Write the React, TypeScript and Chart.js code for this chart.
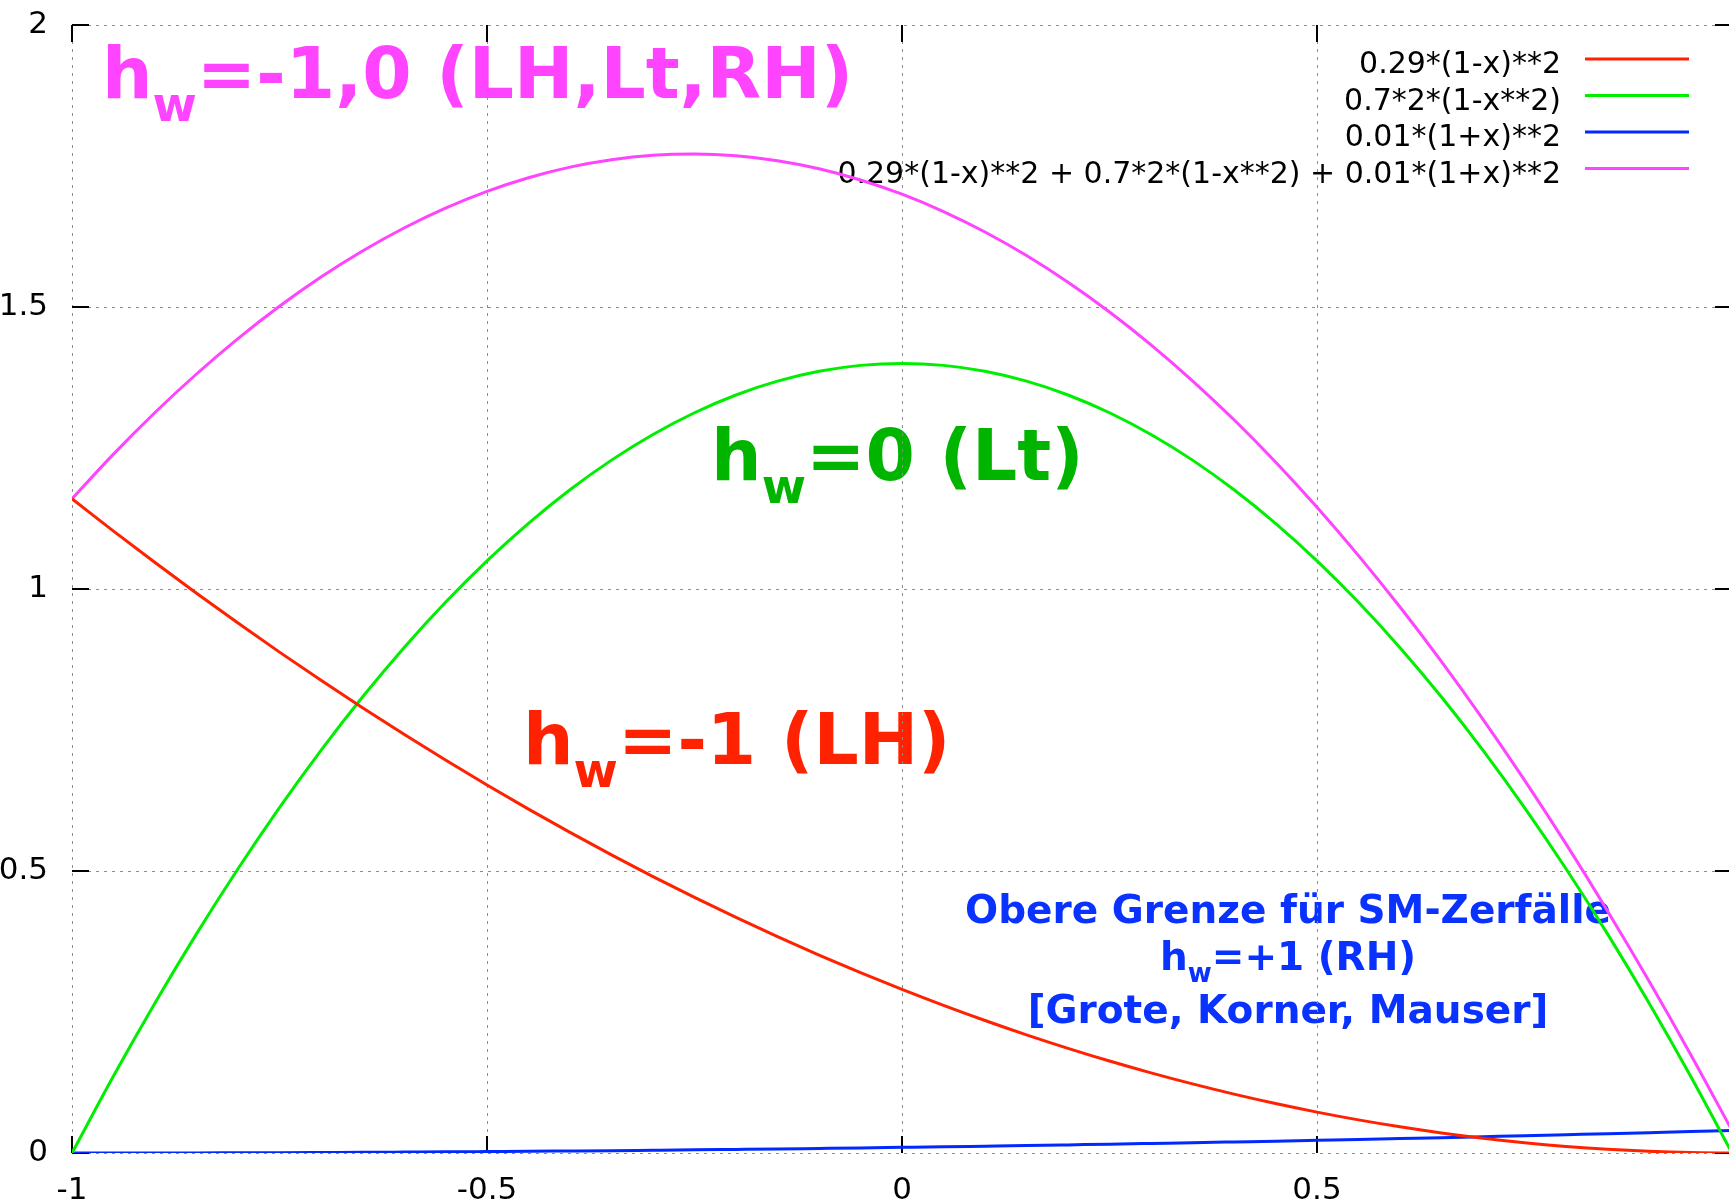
import React, { useEffect, useRef } from 'react';
import { Chart, registerables } from 'chart.js';

Chart.register(...registerables);

// ---- data ----
const xValues = [
  -1, -0.95, -0.9, -0.85, -0.8, -0.75, -0.7, -0.65, -0.6, -0.55, -0.5, -0.45, -0.4, -0.35, -0.3, -0.25, -0.2, -0.15, -0.1, -0.05,
  0, 0.05, 0.1, 0.15, 0.2, 0.25, 0.3, 0.35, 0.4, 0.45, 0.5, 0.55, 0.6, 0.65, 0.7, 0.75, 0.8, 0.85, 0.9, 0.95, 1,
];
const redValues = [
  1.16, 1.1027, 1.0469, 0.9925, 0.9396, 0.8881, 0.8381, 0.7895, 0.7424, 0.6967, 0.6525, 0.6097, 0.5684, 0.5285, 0.4901, 0.4531, 0.4176, 0.3835, 0.3509, 0.3197,
  0.29, 0.2617, 0.2349, 0.2095, 0.1856, 0.1631, 0.1421, 0.1225, 0.1044, 0.0877, 0.0725, 0.0587, 0.0464, 0.0355, 0.0261, 0.0181, 0.0116, 0.0065, 0.0029, 0.0007, 0,
];
const greenValues = [
  0, 0.1365, 0.266, 0.3885, 0.504, 0.6125, 0.714, 0.8085, 0.896, 0.9765, 1.05, 1.1165, 1.176, 1.2285, 1.274, 1.3125, 1.344, 1.3685, 1.386, 1.3965,
  1.4, 1.3965, 1.386, 1.3685, 1.344, 1.3125, 1.274, 1.2285, 1.176, 1.1165, 1.05, 0.9765, 0.896, 0.8085, 0.714, 0.6125, 0.504, 0.3885, 0.266, 0.1365, 0,
];
const blueValues = [
  0, 0, 0.0001, 0.0002, 0.0004, 0.0006, 0.0009, 0.0012, 0.0016, 0.002, 0.0025, 0.003, 0.0036, 0.0042, 0.0049, 0.0056, 0.0064, 0.0072, 0.0081, 0.009,
  0.01, 0.011, 0.0121, 0.0132, 0.0144, 0.0156, 0.0169, 0.0182, 0.0196, 0.021, 0.0225, 0.024, 0.0256, 0.0272, 0.0289, 0.0306, 0.0324, 0.0342, 0.0361, 0.038, 0.04,
];
const magentaValues = [
  1.16, 1.2392, 1.313, 1.3812, 1.444, 1.5012, 1.553, 1.5992, 1.64, 1.6752, 1.705, 1.7292, 1.748, 1.7612, 1.769, 1.7712, 1.768, 1.7592, 1.745, 1.7252,
  1.7, 1.6692, 1.633, 1.5912, 1.544, 1.4912, 1.433, 1.3692, 1.3, 1.2252, 1.145, 1.0592, 0.968, 0.8712, 0.769, 0.6612, 0.548, 0.4292, 0.305, 0.1752, 0.04,
];
const seriesLabels = [
  '0.29*(1-x)**2',
  '0.7*2*(1-x**2)',
  '0.01*(1+x)**2',
  '0.29*(1-x)**2 + 0.7*2*(1-x**2) + 0.01*(1+x)**2',
];
const xTickValues = [-1, -0.5, 0, 0.5, 1];
const xTickLabels = ['-1', '-0.5', '0', '0.5', ''];
const yTickValues = [0, 0.5, 1, 1.5, 2];
const yTickLabels = ['0', '0.5', '1', '1.5', '2'];

const COLORS = ['#ff2200', '#00ee00', '#0028ff', '#ff44ff'];
const FONT = "'DejaVu Sans', sans-serif";

type Note = { x: number; y: number; hw: boolean; text: string; color: string; size: number; sub: number; align: 'left' | 'center' };
const notes: Note[] = [
  { x: -0.9639, y: 1.8706, hw: true, text: '=-1,0 (LH,Lt,RH)', color: '#ff44ff', size: 71, sub: 48, align: 'left' },
  { x: -0.23, y: 1.193, hw: true, text: '=0 (Lt)', color: '#00b400', size: 71, sub: 48, align: 'left' },
  { x: -0.4566, y: 0.6897, hw: true, text: '=-1 (LH)', color: '#ff2200', size: 71, sub: 48, align: 'left' },
  { x: 0.4651, y: 0.4078, hw: false, text: 'Obere Grenze für SM-Zerfälle', color: '#0a32ff', size: 39, sub: 26, align: 'center' },
  { x: 0.4651, y: 0.3245, hw: true, text: '=+1 (RH)', color: '#0a32ff', size: 39, sub: 26, align: 'center' },
  { x: 0.4651, y: 0.2305, hw: false, text: '[Grote, Korner, Mauser]', color: '#0a32ff', size: 39, sub: 26, align: 'center' },
];

function drawNote(ctx: CanvasRenderingContext2D, n: Note, px: number, py: number) {
  const main = `bold ${n.size}px ${FONT}`;
  const sub = `bold ${n.sub}px ${FONT}`;
  ctx.textAlign = 'left';
  ctx.textBaseline = 'alphabetic';
  ctx.fillStyle = n.color;
  ctx.font = main;
  const wH = n.hw ? ctx.measureText('h').width : 0;
  const wRest = ctx.measureText(n.text).width;
  ctx.font = sub;
  const wW = n.hw ? ctx.measureText('w').width : 0;
  const total = wH + wW + wRest;
  const sx = n.align === 'center' ? px - total / 2 : px;
  if (n.hw) {
    ctx.font = main;
    ctx.fillText('h', sx, py);
    ctx.font = sub;
    ctx.fillText('w', sx + wH, py + n.size * 0.32);
  }
  ctx.font = main;
  ctx.fillText(n.text, sx + wH + wW, py);
}

const decorPlugin = {
  id: 'decor',
  beforeDraw(chart: any) {
    const { ctx, chartArea, scales } = chart;
    ctx.save();
    ctx.fillStyle = '#ffffff';
    ctx.fillRect(0, 0, chart.width, chart.height);
    for (const n of notes) {
      drawNote(ctx, n, scales.x.getPixelForValue(n.x), scales.y.getPixelForValue(n.y));
    }
    // legend (gnuplot style: right-aligned text, sample line on the right)
    ctx.font = `30px ${FONT}`;
    ctx.textAlign = 'right';
    ctx.textBaseline = 'alphabetic';
    chart.data.datasets.forEach((ds: any, i: number) => {
      const ly = chartArea.top + 34 + i * 36.5;
      ctx.fillStyle = '#000000';
      ctx.fillText(ds.label, chartArea.right - 171, ly + 14);
      ctx.strokeStyle = ds.borderColor;
      ctx.lineWidth = 3;
      ctx.beginPath();
      ctx.moveTo(chartArea.right - 147, ly);
      ctx.lineTo(chartArea.right - 43, ly);
      ctx.stroke();
    });
    ctx.restore();
  },
  beforeDatasetsDraw(chart: any) {
    const { ctx, chartArea, scales } = chart;
    const L = 17;
    ctx.save();
    ctx.strokeStyle = '#000000';
    ctx.lineWidth = 2;
    ctx.beginPath();
    for (const v of yTickValues) {
      const y = Math.round(scales.y.getPixelForValue(v));
      ctx.moveTo(chartArea.left, y);
      ctx.lineTo(chartArea.left + L, y);
      ctx.moveTo(chartArea.right, y);
      ctx.lineTo(chartArea.right - L, y);
    }
    for (const v of xTickValues) {
      const x = Math.round(scales.x.getPixelForValue(v));
      ctx.moveTo(x, chartArea.bottom);
      ctx.lineTo(x, chartArea.bottom - L);
      ctx.moveTo(x, chartArea.top);
      ctx.lineTo(x, chartArea.top + L);
    }
    ctx.stroke();
    ctx.restore();
  },
};

export default function App() {
  const ref = useRef<HTMLCanvasElement | null>(null);
  useEffect(() => {
    if (!ref.current) return;
    const mk = (vals: number[]) => xValues.map((x, i) => ({ x, y: vals[i] }));
    const allSeries = [redValues, greenValues, blueValues, magentaValues];
    const chart = new Chart(ref.current, {
      type: 'scatter',
      data: {
        datasets: allSeries.map((vals, i) => ({
          label: seriesLabels[i],
          data: mk(vals),
          showLine: true,
          borderColor: COLORS[i],
          backgroundColor: COLORS[i],
          borderWidth: 3,
          pointRadius: 0,
          pointHoverRadius: 0,
          cubicInterpolationMode: 'monotone',
          fill: false,
        })),
      },
      options: {
        responsive: false,
        animation: false,
        devicePixelRatio: 1,
        layout: { padding: { top: 25, right: 28, bottom: 0, left: 0 } },
        plugins: { legend: { display: false }, tooltip: { enabled: false } },
        events: [],
        scales: {
          x: {
            type: 'linear',
            min: -1,
            max: 1,
            afterBuildTicks: (s: any) => { s.ticks = xTickValues.map((v) => ({ value: v })); },
            afterFit: (s: any) => { s.height = 50; s.paddingLeft = 0; s.paddingRight = 0; },
            ticks: {
              padding: 19,
              color: '#000000',
              font: { family: FONT, size: 31 },
              maxRotation: 0,
              autoSkip: false,
              callback: (v: any) => { const i = xTickValues.indexOf(Number(v)); return i >= 0 ? xTickLabels[i] : ''; },
            },
            grid: { color: '#8c8c8c', lineWidth: 1, drawTicks: false },
            border: { display: false, dash: [3, 5] },
          },
          y: {
            type: 'linear',
            min: 0,
            max: 2,
            afterBuildTicks: (s: any) => { s.ticks = yTickValues.map((v) => ({ value: v })); },
            afterFit: (s: any) => { s.width = 72; s.paddingTop = 0; s.paddingBottom = 0; },
            ticks: {
              padding: 24,
              color: '#000000',
              font: { family: FONT, size: 31 },
              autoSkip: false,
              callback: (v: any) => { const i = yTickValues.indexOf(Number(v)); return i >= 0 ? yTickLabels[i] : ''; },
            },
            grid: { color: '#8c8c8c', lineWidth: 1, drawTicks: false },
            border: { display: false, dash: [3, 5] },
          },
        },
      },
      plugins: [decorPlugin],
    } as any);
    return () => chart.destroy();
  }, []);
  return (
    <div style={{ position: 'fixed', left: 0, top: 0, width: 1729, height: 1203, overflow: 'hidden', background: '#ffffff' }}>
      <canvas ref={ref} width={1760} height={1203} style={{ display: 'block' }} />
    </div>
  );
}
